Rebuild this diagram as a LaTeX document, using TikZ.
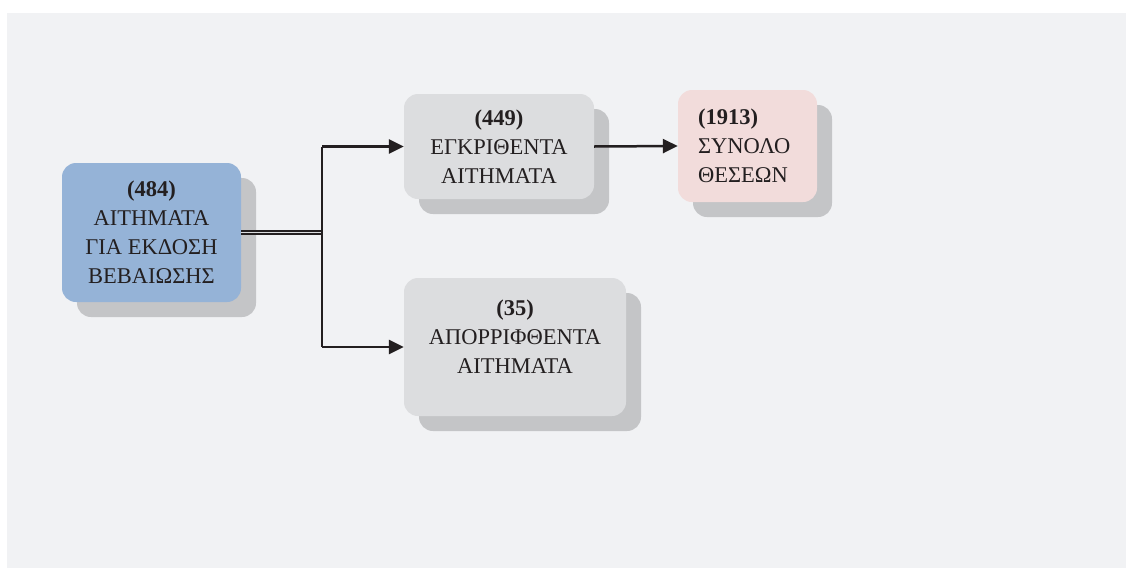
\documentclass[tikz,border=0pt]{standalone}
\usepackage{fontspec}
\setmainfont{Liberation Serif}
\usepackage{tikz}
\usetikzlibrary{arrows.meta, shadows}
\usepackage{xcolor}
\definecolor{BgGrey}{RGB}{241, 242, 244}
\definecolor{BoxBlue}{RGB}{149, 179, 215}
\definecolor{BoxPink}{RGB}{242, 220, 219}
\definecolor{BoxGrey}{RGB}{220, 221, 223}
\definecolor{ShadowGrey}{RGB}{196, 197, 199}
\definecolor{InkDark}{RGB}{35, 31, 32}

\tikzset{
    box/.style = {rounded corners = 14pt, inner sep = 0pt, align = center,
        text = InkDark, font = \fontsize{22.5}{29}\selectfont,
        drop shadow = {shadow xshift = 15pt, shadow yshift = -15pt,
            fill = ShadowGrey, opacity = 1}},
    conn/.style = {draw = InkDark, line width = 2.5pt},
    arr/.style = {conn, -{Triangle[length = 15pt, width = 14pt]}},
    dbl/.style = {draw = InkDark, line width = 1.6pt, double = BoxGrey,
        double distance = 1.4pt}
}

\begin{document}
\begin{tikzpicture}[x = 1pt, y = -1pt]
            %背景
            \useasboundingbox (0, 0) rectangle (1126, 568);
            \fill[BgGrey] (7, 13) rectangle (1126, 568);
            %方框
            \node[box, fill = BoxBlue, minimum width = 179, minimum height = 139] (b484) at (151.5, 232.5)
                {\textbf{(484)}\\ΑΙΤΗΜΑΤΑ\\ΓΙΑ ΕΚΔΟΣΗ\\ΒΕΒΑΙΩΣΗΣ};
            \node[box, fill = BoxGrey, minimum width = 190, minimum height = 105] (b449) at (499, 146.5)
                {\textbf{(449)}\\ΕΓΚΡΙΘΕΝΤΑ\\ΑΙΤΗΜΑΤΑ};
            \node[box, fill = BoxPink, minimum width = 139, minimum height = 112, align = left,
                text width = 99, inner xsep = 20pt] (b1913) at (747.5, 146)
                {\textbf{(1913)}\\ΣΥΝΟΛΟ\\ΘΕΣΕΩΝ};
            \node[box, fill = BoxGrey, minimum width = 222, minimum height = 138] (b35) at (515, 347) {};
            \node[text = InkDark, align = center, font = \fontsize{22.5}{29}\selectfont] (t35)
                at ([yshift = 10pt]b35.center) {\textbf{(35)}\\ΑΠΟΡΡΙΦΘΕΝΤΑ\\ΑΙΤΗΜΑΤΑ};
            %连线
            \coordinate (split) at ([xshift = 81pt]b484.east);
            \draw[dbl] (b484.east) -- (split);
            \draw[conn] (split |- b449.west) -- (split |- b35.west);
            \draw[arr] (split |- b449.west) -- (b449.west);
            \draw[arr] (split |- b35.west) -- (b35.west);
            \draw[arr] (b449.east) -- (b1913.west);
        \end{tikzpicture}
\end{document}
